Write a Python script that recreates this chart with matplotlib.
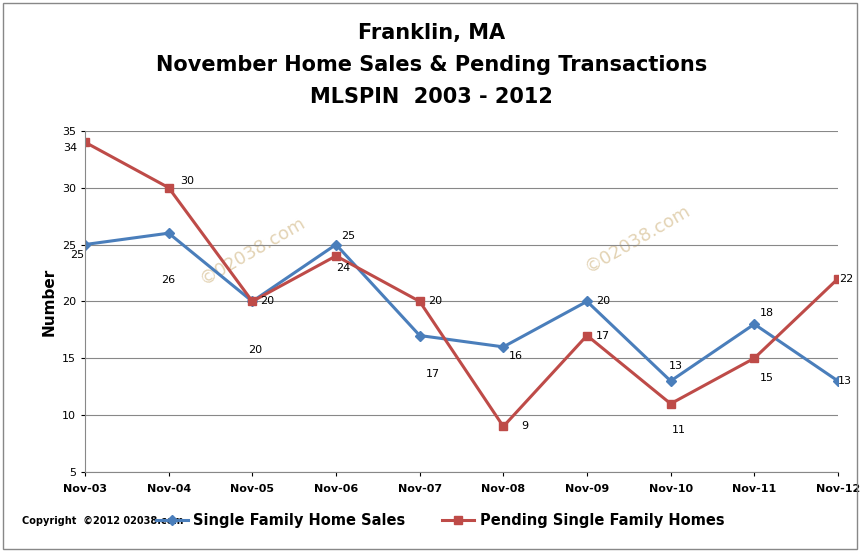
import matplotlib
import matplotlib.pyplot as plt
from matplotlib.patches import Rectangle

matplotlib.use("Agg")

months = ["Nov-03", "Nov-04", "Nov-05", "Nov-06", "Nov-07",
          "Nov-08", "Nov-09", "Nov-10", "Nov-11", "Nov-12"]
home_sales = [25, 26, 20, 25, 17, 16, 20, 13, 18, 13]
pending = [34, 30, 20, 24, 20, 9, 17, 11, 15, 22]

# label offsets in pixels (dx, dy), dy positive = up
sales_off = [(-8, -10), (0, -47), (3, -49), (12, 9), (13, -38),
             (13, -9), (16, 0), (5, 15), (13, 11), (7, 0)]
pend_off = [(-15, -6), (19, 7), (15, 0), (7, -12), (16, 0),
            (21, 0), (16, 0), (8, -26), (13, -20), (8, 0)]

fig = plt.figure(figsize=(8.63, 5.52), dpi=100)
ax = fig.add_axes([0.0985, 0.145, 0.8725, 0.618])
x = list(range(len(months)))

ax.plot(x, home_sales, color="#4a7ebb", lw=2.2, marker="D", ms=5,
        label="Single Family Home Sales")
ax.plot(x, pending, color="#be4b48", lw=2.2, marker="s", ms=6,
        label="Pending Single Family Homes")

for vals, offs in [(home_sales, sales_off), (pending, pend_off)]:
    for i, v in enumerate(vals):
        dx, dy = offs[i]
        ax.annotate(str(v), (i, v), xytext=(dx, dy), textcoords="offset pixels",
                    ha="center", va="center", fontsize=8)

ax.set_xlim(0, 9)
ax.set_ylim(5, 35)
ax.set_yticks(range(5, 36, 5))
ax.set_xticks(x)
ax.set_xticklabels(months, fontsize=8, fontweight="bold")
ax.tick_params(axis="y", labelsize=8, length=3)
ax.tick_params(axis="x", length=3, pad=6)
ax.grid(axis="y", color="#888888", lw=0.8)
ax.set_axisbelow(True)
for side in ["top", "right"]:
    ax.spines[side].set_visible(False)
ax.spines["left"].set_color("#888888")
ax.spines["bottom"].set_color("#888888")
ax.set_ylabel("Number", fontsize=11, fontweight="bold")

for xx, yy in [(2.0, 24.5), (6.6, 25.5)]:
    ax.text(xx, yy, "©02038.com", rotation=30, fontsize=13, color="#e3d3b4",
            ha="center", va="center", zorder=0)

fig.text(0.5, 0.94, "Franklin, MA", ha="center", va="center",
         fontsize=15, fontweight="bold")
fig.text(0.5, 0.882, "November Home Sales & Pending Transactions", ha="center",
         va="center", fontsize=15, fontweight="bold")
fig.text(0.5, 0.824, "MLSPIN  2003 - 2012", ha="center", va="center",
         fontsize=15, fontweight="bold")
fig.text(0.025, 0.057, "Copyright  ©2012 02038.com", fontsize=7,
         fontweight="bold", va="center")

fig.legend(loc="center", bbox_to_anchor=(0.51, 0.057), ncol=2, frameon=False,
           prop={"size": 10.5, "weight": "bold"}, handlelength=2.2,
           columnspacing=2.5, handletextpad=0.4)
fig.patches.append(Rectangle((0.003, 0.005), 0.99, 0.99, transform=fig.transFigure,
                             fill=False, edgecolor="#888888", lw=1))

fig.savefig("out.png", dpi=100)
